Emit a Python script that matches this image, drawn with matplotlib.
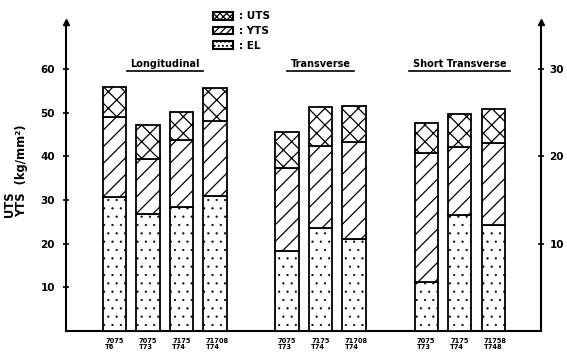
import matplotlib
matplotlib.use("Agg")
import matplotlib.pyplot as plt
from matplotlib.patches import Patch

# Tensile data per alloy / temper, grouped by test direction
alloys = ["7075\nT6", "7075\nT73", "7175\nT74", "71708\nT74",
          "7075\nT73", "7175\nT74", "71708\nT74",
          "7075\nT73", "7175\nT74", "71758\nT748"]
uts = [55.9, 47.2, 50.2, 55.6, 45.5, 51.4, 51.5, 47.7, 49.7, 50.8]   # kg/mm2
yts = [49.0, 39.4, 43.7, 48.2, 37.3, 42.4, 43.4, 40.8, 42.1, 43.0]   # kg/mm2
el = [15.3, 13.4, 14.2, 15.5, 9.2, 11.8, 10.5, 5.6, 13.3, 12.2]      # %
groups = ["Longitudinal", "Transverse", "Short Transverse"]
group_sizes = [4, 3, 3]
left_ticks = [10, 20, 30, 40, 50, 60]
right_ticks = [10, 20, 30]

plt.rcParams["font.family"] = ["DejaVu Sans"]
plt.rcParams["font.weight"] = "bold"

fig = plt.figure(figsize=(5.67, 3.58), dpi=100)
ax = fig.add_axes([66 / 567, 1 - 331 / 358, (541 - 66) / 567, (331 - 22) / 358])

# bar positions: unit step inside a group, wider gap between groups
group_gap = 2.15
positions = []
group_spans = []
x = 0.0
for n in group_sizes:
    start = x
    for i in range(n):
        positions.append(x)
        x += 1.0
    group_spans.append((start, x - 1.0))
    x += group_gap - 1.0

scale = 2.0  # elongation (%) axis is half the strength axis
width = 0.69
el_h = [e * scale for e in el]
yts_h = [y - b for y, b in zip(yts, el_h)]
uts_h = [u - y for u, y in zip(uts, yts)]

kw = dict(width=width, edgecolor="black", linewidth=1.3, facecolor="white", zorder=3)
plt.rcParams["hatch.linewidth"] = 0.35
ax.bar(positions, el_h, hatch="..", **kw)
plt.rcParams["hatch.linewidth"] = 0.9
ax.bar(positions, yts_h, bottom=el_h, hatch="//", **kw)
ax.bar(positions, uts_h, bottom=yts, hatch="xx", **kw)

ax.set_xlim(-1.448, 12.73)
ax.set_ylim(0, 70.8)
ax.set_yticks(left_ticks)
ax.set_yticklabels([str(t) for t in left_ticks], fontsize=7.5, fontweight="bold")
ax.tick_params(axis="y", direction="inout", length=4, width=1.2, pad=6)
ax.set_xticks([])
for p, lab in zip(positions, alloys):
    ax.text(p - 0.28, -1.7, lab, ha="left", va="top", fontsize=4.8,
            fontweight="bold", linespacing=0.85, clip_on=False)

for s in ["top", "right"]:
    ax.spines[s].set_visible(False)
ax.spines["left"].set_linewidth(1.5)
ax.spines["bottom"].set_linewidth(1.5)

ax2 = ax.twinx()
ax2.set_ylim(0, 70.8 / scale)
ax2.set_yticks(right_ticks)
ax2.set_yticklabels([str(t) for t in right_ticks], fontsize=7.5, fontweight="bold")
ax2.tick_params(axis="y", direction="inout", length=4, width=1.2, pad=4)
for s in ["top", "left", "bottom"]:
    ax2.spines[s].set_visible(False)
ax2.spines["right"].set_linewidth(1.5)

# arrow heads on both vertical axes
for xa in (0, 1):
    ax.plot([xa], [1.0], marker="^", color="black", markersize=4,
            transform=ax.transAxes, clip_on=False, zorder=5)

ax.set_ylabel("UTS\nYTS  (kg/mm\u00b2)", fontsize=8.3, fontweight="bold",
              multialignment="left", linespacing=0.9)
ax.yaxis.set_label_coords(-0.080, 0.52)

# group titles, underlined
fig.canvas.draw()
renderer = fig.canvas.get_renderer()
for name, (a, b) in zip(groups, group_spans):
    c = (a + b) / 2
    t = ax.text(c, 60.1, name, ha="center", va="bottom", fontsize=7,
                fontweight="bold", zorder=4)
    bb = t.get_window_extent(renderer).transformed(ax.transData.inverted())
    pad = 0.1
    ax.plot([bb.x0 - pad, bb.x1 + pad], [59.6, 59.6], color="black", lw=1.2)

plt.rcParams["hatch.linewidth"] = 0.9
handles = [Patch(facecolor="white", edgecolor="black", hatch="xxxxx", lw=1.5),
           Patch(facecolor="white", edgecolor="black", hatch="/////", lw=1.5),
           Patch(facecolor="white", edgecolor="black", hatch="....", lw=1.5)]
fig.legend(handles, [": UTS", ": YTS", ": EL"], loc="upper left",
           bbox_to_anchor=(205 / 567, 1 - 3 / 358), frameon=False,
           fontsize=7.5, handlelength=1.9, handleheight=0.75,
           labelspacing=0.45, handletextpad=0.6, borderpad=0.3)

fig.savefig("out.png", dpi=100)
